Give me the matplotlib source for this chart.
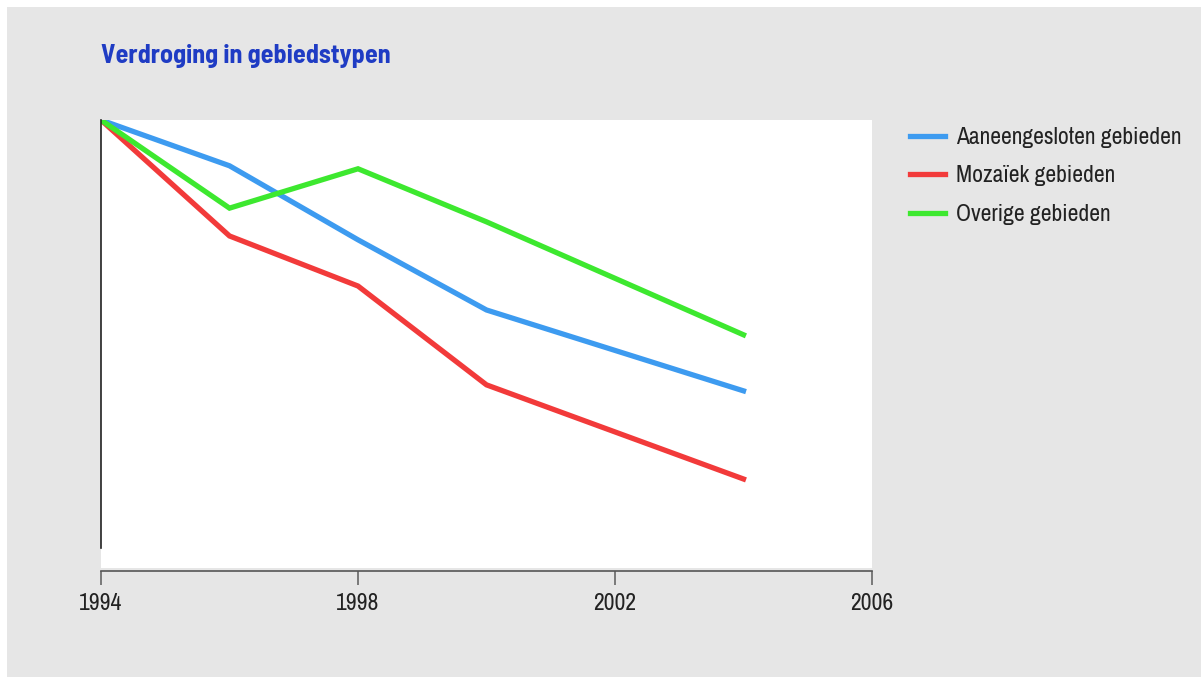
import matplotlib.pyplot as plt
from matplotlib.patches import Rectangle

years = [1994, 1996, 1998, 2000, 2004]
aaneengesloten = [100, 89.3, 72.0, 55.6, 36.7]
mozaiek = [100, 72.9, 61.2, 38.1, 16.1]
overige = [100, 79.4, 88.6, 76.2, 49.8]

series_names = ['Aaneengesloten gebieden', 'Mozaïek gebieden', 'Overige gebieden']
colors = ['#3d9bf0', '#f23a3a', '#3de82f']
xticks = [1994, 1998, 2002, 2006]

plt.rcParams['font.family'] = ['Archivo Narrow', 'DejaVu Sans']

fig = plt.figure(figsize=(12.03, 6.77), dpi=100)
fig.patch.set_facecolor('white')
fig.patches.append(Rectangle((7 / 1203, 0), 1194 / 1203, 1 - 7 / 677,
                             transform=fig.transFigure, facecolor='#e6e6e6',
                             edgecolor='none', zorder=-10))

ax = fig.add_axes([101 / 1203, 1 - 568 / 677, 771 / 1203, 448 / 677])
ax.set_facecolor('white')

for vals, name, c in zip([aaneengesloten, mozaiek, overige], series_names, colors):
    ax.plot(years, vals, color=c, lw=3.8, label=name, solid_joinstyle='miter')

ax.set_xlim(1994, 2006)
ax.set_ylim(-4.7, 100)
ax.set_xticks(xticks)
ax.set_yticks([])
ax.tick_params(axis='x', length=10, width=1.2, color='#666666', labelsize=17,
               pad=6, labelcolor='#222222')

for s in ['top', 'right']:
    ax.spines[s].set_visible(False)
ax.spines['left'].set_bounds(0, 100)
ax.spines['left'].set_color('#222222')
ax.spines['left'].set_linewidth(1.2)
ax.spines['bottom'].set_position(('outward', 2))
ax.spines['bottom'].set_color('#555555')
ax.spines['bottom'].set_linewidth(1.2)

# bold title needs a condensed face that has a bold weight
fig.text(101 / 1203, 1 - 63 / 677, 'Verdroging in gebiedstypen', color='#1f3cc4',
         fontsize=18.8, fontweight='bold', ha='left', va='baseline',
         family=['Barlow Semi Condensed', 'DejaVu Sans'])

fig.legend(loc='upper left', bbox_to_anchor=(910 / 1203, 1 - 127 / 677),
           frameon=False, fontsize=17, handlelength=1.5, handletextpad=0.45,
           labelspacing=0.74, borderpad=0, borderaxespad=0, labelcolor='#222222')

fig.savefig('out.png', dpi=100, facecolor=fig.get_facecolor())
